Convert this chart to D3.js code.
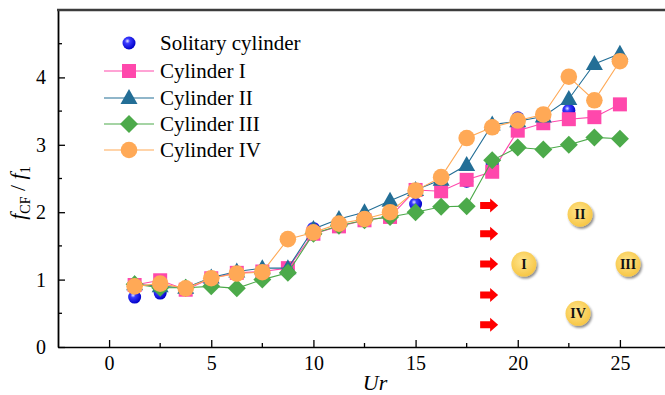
<!DOCTYPE html>
<html><head><meta charset="utf-8">
<script src="https://cdn.jsdelivr.net/npm/d3@7"></script>
<style>body{margin:0;background:#fff}svg{display:block}</style>
</head><body><svg id="c" width="665" height="395"></svg>
<script>
const ur = [1.25,2.5,3.75,5,6.25,7.5,8.75,10,11.25,12.5,13.75,15,16.25,17.5,18.75,20,21.25,22.5,23.75,25];
const solitary = [0.74,0.80,0.86,1.00,1.08,1.12,1.15,1.76,1.82,1.92,1.97,2.12,2.38,2.46,2.72,3.40,3.46,3.51,3.66,4.25];
const cyl1 = [0.92,0.99,0.85,1.02,1.10,1.12,1.17,1.68,1.79,1.88,1.93,2.33,2.31,2.48,2.60,3.21,3.32,3.38,3.41,3.60];
const cyl2 = [0.93,0.90,0.88,1.03,1.12,1.17,1.17,1.75,1.90,2.00,2.17,2.33,2.48,2.70,3.30,3.35,3.42,3.68,4.20,4.35];
const cyl3 = [0.93,0.88,0.88,0.90,0.87,1.00,1.10,1.68,1.80,1.88,1.93,2.00,2.08,2.09,2.77,2.96,2.93,3.00,3.11,3.09];
const cyl4 = [0.90,0.94,0.87,1.02,1.09,1.11,1.60,1.70,1.83,1.90,2.00,2.32,2.52,3.10,3.26,3.36,3.45,4.01,3.66,4.24];
const seriesNames = ["Solitary cylinder","Cylinder I","Cylinder II","Cylinder III","Cylinder IV"];
const xTicks = [0,5,10,15,20,25];
const yTicks = [0,1,2,3,4];
const arrowY = [2.1,1.68,1.23,0.77,0.33];
const arrowX = 18.6;
const zoneLabels = ["I","II","III","IV"];
const zoneX = [20.3,23.05,25.4,22.95];
const zoneY = [1.23,1.97,1.23,0.5];

const FONT = "'Liberation Serif', 'Times New Roman', Times, 'DejaVu Serif', serif";
const svg = d3.select("#c");
const x = d3.scaleLinear().domain([-2.5,27.5]).range([58,671]);
const y = d3.scaleLinear().domain([0,5]).range([347,10]);

const defs = svg.append("defs");
const g1 = defs.append("radialGradient").attr("id","sph").attr("cx","0.38").attr("cy","0.35").attr("r","0.65");
g1.append("stop").attr("offset","0").attr("stop-color","#e8e8ff");
g1.append("stop").attr("offset","0.3").attr("stop-color","#3a3aff");
g1.append("stop").attr("offset","1").attr("stop-color","#0000c8");
const g2 = defs.append("radialGradient").attr("id","gold").attr("cx","0.45").attr("cy","0.4").attr("r","0.6");
g2.append("stop").attr("offset","0").attr("stop-color","#ffe690");
g2.append("stop").attr("offset","1").attr("stop-color","#f7c645");
const f = defs.append("filter").attr("id","sh").attr("x","-50%").attr("y","-50%").attr("width","200%").attr("height","200%");
f.append("feDropShadow").attr("dx",1.5).attr("dy",2).attr("stdDeviation",1.2).attr("flood-color","#000").attr("flood-opacity",0.45);

// axes
const xAxis = d3.axisBottom(x).tickValues(xTicks).tickSizeInner(-7).tickSizeOuter(0).tickPadding(12);
const gx = svg.append("g").attr("transform","translate(0,347)").call(xAxis).attr("font-family",FONT);
gx.select(".domain").attr("stroke","#000").attr("stroke-width",1.6);
gx.selectAll(".tick line").attr("stroke","#000").attr("stroke-width",1.3);
gx.selectAll(".tick text").attr("font-size",20).attr("font-family",FONT).attr("fill","#000").attr("dy","0.55em");
const xMinor = d3.range(-2.5,27.6,2.5).filter(v=>!xTicks.includes(v) && v>-2.5);
svg.append("g").selectAll("line").data(xMinor).join("line")
  .attr("x1",d=>x(d)).attr("x2",d=>x(d)).attr("y1",347).attr("y2",343).attr("stroke","#000").attr("stroke-width",1.3);

const yAxis = d3.axisLeft(y).tickValues(yTicks).tickSizeInner(-7).tickSizeOuter(0).tickPadding(12).tickFormat(d3.format("d"));
const gy = svg.append("g").attr("transform","translate(58,0)").call(yAxis).attr("font-family",FONT);
gy.select(".domain").attr("stroke","#000").attr("stroke-width",1.8);
gy.selectAll(".tick line").attr("stroke","#000").attr("stroke-width",1.3);
gy.selectAll(".tick text").attr("font-size",20).attr("font-family",FONT).attr("fill","#000");
const yMinor = [0.5,1.5,2.5,3.5,4.5];
svg.append("g").selectAll("line").data(yMinor).join("line")
  .attr("x1",58).attr("x2",62).attr("y1",d=>y(d)).attr("y2",d=>y(d)).attr("stroke","#000").attr("stroke-width",1.3);
svg.append("line").attr("x1",57).attr("x2",665).attr("y1",y(5)).attr("y2",y(5)).attr("stroke","#3c3c3c").attr("stroke-width",2.6);

// titles
svg.append("text").attr("x",375).attr("y",390).attr("text-anchor","middle").attr("font-family",FONT).attr("font-size",22).attr("font-style","italic").text("Ur");
const yt = svg.append("text").attr("transform","translate(25,193) rotate(-90)").attr("text-anchor","middle").attr("font-family",FONT).attr("font-size",22);
yt.append("tspan").attr("font-style","italic").text("f");
yt.append("tspan").attr("font-size",14).attr("dy",5).text("CF");
yt.append("tspan").attr("dy",-5).text(" / ");
yt.append("tspan").attr("font-style","italic").text("f");
yt.append("tspan").attr("font-size",14).attr("dy",5).text("1");

// symbols
const sqr = (sel,s)=>sel.append("rect").attr("x",-s/2).attr("y",-s/2).attr("width",s).attr("height",s);
const marker = {
  0:(g)=>g.append("circle").attr("r",6.5).attr("fill","url(#sph)"),
  1:(g)=>sqr(g,14).attr("fill","#ff48ac"),
  2:(g)=>g.append("path").attr("d","M0,-9L8.5,6H-8.5Z").attr("fill","#236e96"),
  3:(g)=>g.append("path").attr("d","M0,-9L9,0L0,9L-9,0Z").attr("fill","#4caa4a"),
  4:(g)=>g.append("circle").attr("r",8.3).attr("fill","#ffa956")
};
const lineColor = [null,"#ff48ac","#236e96","#4caa4a","#ffa956"];
const data = [solitary,cyl1,cyl2,cyl3,cyl4];
const line = d3.line().x((d,i)=>x(ur[i])).y(d=>y(d));

data.forEach((vals,k)=>{
  const g = svg.append("g");
  if(lineColor[k]) g.append("path").attr("d",line(vals)).attr("fill","none").attr("stroke",lineColor[k]).attr("stroke-width",1.1);
  vals.forEach((v,i)=>{
    const m = g.append("g").attr("transform",`translate(${x(ur[i])},${y(v)})`);
    marker[k](m);
  });
});

// legend
const legY = [43,71,98,124,150];
seriesNames.forEach((n,k)=>{
  const g = svg.append("g").attr("transform",`translate(0,${legY[k]})`);
  if(lineColor[k]) g.append("line").attr("x1",104).attr("x2",154).attr("stroke",lineColor[k]).attr("stroke-width",1.1);
  marker[k](g.append("g").attr("transform","translate(129,0)"));
  g.append("text").attr("x",160).attr("y",7).attr("font-family",FONT).attr("font-size",21).text(n);
});

// arrows
svg.append("g").selectAll("path").data(arrowY).join("path")
  .attr("transform",d=>`translate(${x(arrowX)},${y(d)})`)
  .attr("d","M-9,-3.5H1V-7L9,0L1,7V3.5H-9Z").attr("fill","#ff0000");

// zone badges
zoneLabels.forEach((t,i)=>{
  const g = svg.append("g").attr("transform",`translate(${x(zoneX[i])},${y(zoneY[i])})`);
  g.append("circle").attr("r",12.5).attr("fill","url(#gold)").attr("filter","url(#sh)");
  g.append("text").attr("y",5).attr("text-anchor","middle").attr("font-family",FONT).attr("font-size",14).attr("font-weight","bold").attr("fill","#111").text(t);
});
</script></body></html>
